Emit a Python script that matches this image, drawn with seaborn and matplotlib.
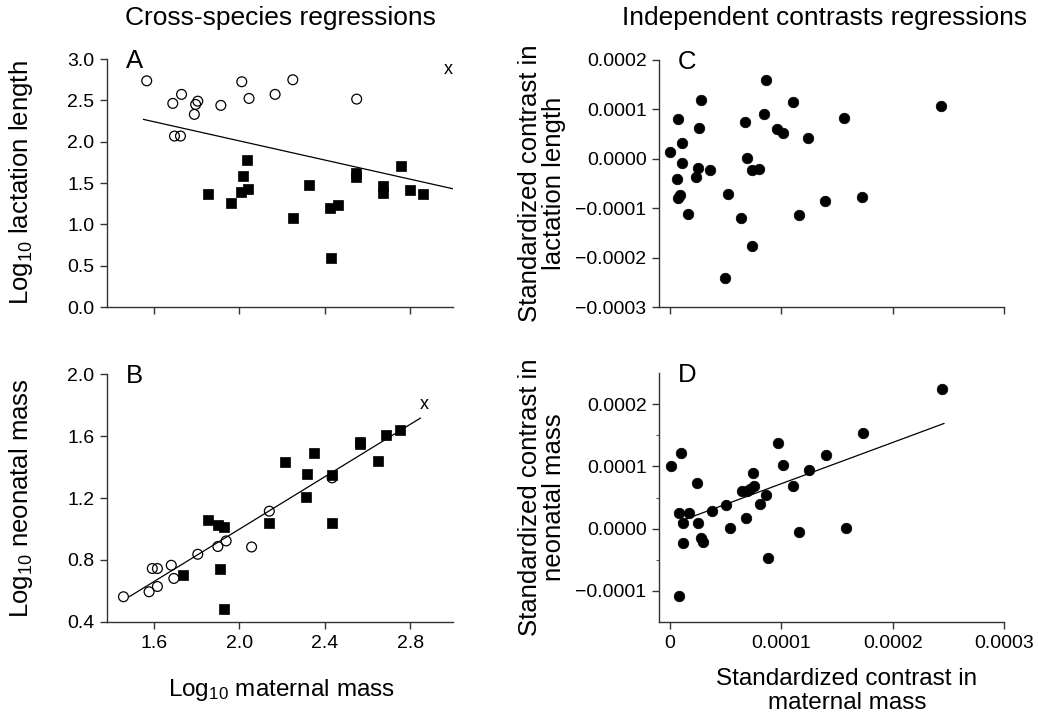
import matplotlib
matplotlib.use("Agg")
import matplotlib.pyplot as plt
import seaborn as sns
from matplotlib.ticker import FuncFormatter

# Panel A: log10 maternal mass vs log10 lactation length
a_open_x = [1.566, 1.688, 1.729, 1.805, 1.795, 1.789, 1.696, 1.724, 1.913, 2.011, 2.045, 2.167, 2.250, 2.549]
a_open_y = [2.736, 2.463, 2.572, 2.490, 2.450, 2.330, 2.068, 2.068, 2.439, 2.725, 2.523, 2.572, 2.749, 2.515]
a_fill_x = [1.851, 1.960, 2.037, 2.019, 2.008, 2.042, 2.324, 2.251, 2.425, 2.460, 2.427, 2.546, 2.546,
            2.674, 2.674, 2.758, 2.797, 2.860]
a_fill_y = [1.363, 1.254, 1.778, 1.588, 1.394, 1.423, 1.471, 1.080, 1.201, 1.233, 0.596, 1.616, 1.576,
            1.467, 1.382, 1.709, 1.415, 1.363]
a_cross = (2.980, 2.874)
a_line_x = [1.55, 3.0]
a_line_y = [2.27, 1.43]

# Panel B: log10 maternal mass vs log10 neonatal mass
b_open_x = [1.457, 1.577, 1.616, 1.592, 1.616, 1.681, 1.693, 1.805, 1.899, 1.938, 2.057, 2.140, 2.434]
b_open_y = [0.563, 0.595, 0.629, 0.745, 0.745, 0.766, 0.681, 0.837, 0.887, 0.923, 0.884, 1.115, 1.330]
b_fill_x = [1.736, 1.851, 1.899, 1.929, 1.907, 1.929, 2.140, 2.212, 2.316, 2.310, 2.347, 2.434, 2.434,
            2.564, 2.564, 2.648, 2.688, 2.752]
b_fill_y = [0.704, 1.056, 1.023, 1.015, 0.741, 0.484, 1.036, 1.433, 1.356, 1.205, 1.491, 1.347, 1.036,
            1.559, 1.549, 1.437, 1.608, 1.636]
b_cross = (2.864, 1.801)
b_line_x = [1.484, 2.848]
b_line_y = [0.563, 1.716]

# Panel C: contrasts, lactation length (units of 1e-4)
c_x = [0.0, 0.075, 0.105, 0.11, 0.066, 0.09, 0.075, 0.158, 0.263, 0.276, 0.246, 0.234, 0.36, 0.524, 0.638,
       0.494, 0.674, 0.689, 0.740, 0.80, 0.740, 0.845, 0.86, 0.959, 1.013, 1.10, 1.235, 1.154, 1.393, 1.566,
       1.722, 2.432]
c_y = [0.13, 0.80, 0.31, -0.08, -0.40, -0.73, -0.80, -1.12, 0.62, 1.19, -0.19, -0.37, -0.23, -0.72, -1.20,
       -2.42, 0.75, 0.01, -0.23, -0.21, -1.76, 0.91, 1.60, 0.60, 0.52, 1.14, 0.43, -1.14, -0.85, 0.82,
       -0.78, 1.07]

# Panel D: contrasts, neonatal mass (units of 1e-4)
d_x = [0.009, 0.096, 0.081, 0.171, 0.114, 0.12, 0.084, 0.24, 0.254, 0.276, 0.294, 0.375, 0.503, 0.539,
       0.644, 0.689, 0.755, 0.719, 0.749, 0.683, 0.809, 0.86, 0.878, 0.973, 1.018, 1.108, 1.162, 1.249,
       1.402, 1.578, 1.731, 2.441]
d_y = [1.00, 1.22, 0.25, 0.25, 0.09, -0.23, -1.09, 0.74, 0.09, -0.15, -0.21, 0.29, 0.38, 0.01, 0.60, 0.60,
       0.68, 0.64, 0.90, 0.17, 0.40, 0.54, -0.47, 1.38, 1.03, 0.69, -0.05, 0.94, 1.19, 0.005, 1.53, 2.24]
d_line_x = [0.075, 2.462]
d_line_y = [0.11, 1.69]

SCALE = 1e-4
c_x = [v * SCALE for v in c_x]
c_y = [v * SCALE for v in c_y]
d_x = [v * SCALE for v in d_x]
d_y = [v * SCALE for v in d_y]
d_line_x = [v * SCALE for v in d_line_x]
d_line_y = [v * SCALE for v in d_line_y]

sns.set_theme(style="ticks")
plt.rcParams["font.family"] = ["Liberation Sans", "DejaVu Sans"]
plt.rcParams["mathtext.fontset"] = "custom"
plt.rcParams["mathtext.rm"] = "Liberation Sans"
plt.rcParams["mathtext.default"] = "regular"
plt.rcParams["axes.unicode_minus"] = True
for key in ("text.color", "axes.labelcolor", "xtick.color", "ytick.color"):
    plt.rcParams[key] = "black"

W, H = 1038, 723
fig = plt.figure(figsize=(W / 100, H / 100), dpi=100)


def add_ax(x0, y0, x1, y1):
    return fig.add_axes([x0 / W, 1 - y1 / H, (x1 - x0) / W, (y1 - y0) / H])


ax_a = add_ax(107, 59, 453, 307)
ax_b = add_ax(107, 374, 453, 622)
ax_c = add_ax(659, 60, 1004, 307)
ax_d = add_ax(659, 373, 1004, 622)

open_kw = dict(marker="o", s=50, facecolor="none", edgecolor="black", linewidth=0.9, zorder=3)
sq_kw = dict(marker="s", s=42, color="black", edgecolor="black", linewidth=0.5, zorder=3)
dot_kw = dict(marker="o", s=58, color="black", edgecolor="black", linewidth=0.5, zorder=3)
line_kw = dict(color="black", linewidth=0.9, zorder=2)

YLAB = 18.5
XLAB = 17.5
TICK = 14

# A
sns.lineplot(x=a_line_x, y=a_line_y, ax=ax_a, **line_kw)
sns.scatterplot(x=a_open_x, y=a_open_y, ax=ax_a, **open_kw)
sns.scatterplot(x=a_fill_x, y=a_fill_y, ax=ax_a, **sq_kw)
ax_a.text(a_cross[0], a_cross[1], "x", ha="center", va="center", fontsize=13)
ax_a.set_xlim(1.38, 3.0)
ax_a.set_ylim(0, 3.0)
ax_a.set_yticks([0, 0.5, 1.0, 1.5, 2.0, 2.5, 3.0])
ax_a.set_xticks([1.6, 2.0, 2.4, 2.8])
ax_a.set_xticklabels([])
ax_a.yaxis.set_major_formatter(FuncFormatter(lambda v, p: f"{v:.1f}"))
ax_a.set_ylabel("Log$_{10}$ lactation length", fontsize=YLAB, va="center")
ax_a.yaxis.set_label_coords((21 - 107) / 346, 0.5)

# B
sns.lineplot(x=b_line_x, y=b_line_y, ax=ax_b, **line_kw)
sns.scatterplot(x=b_open_x, y=b_open_y, ax=ax_b, **open_kw)
sns.scatterplot(x=b_fill_x, y=b_fill_y, ax=ax_b, **sq_kw)
ax_b.text(b_cross[0], b_cross[1], "x", ha="center", va="center", fontsize=13)
ax_b.set_xlim(1.38, 3.0)
ax_b.set_ylim(0.4, 2.0)
ax_b.set_yticks([0.4, 0.8, 1.2, 1.6, 2.0])
ax_b.set_xticks([1.6, 2.0, 2.4, 2.8])
ax_b.yaxis.set_major_formatter(FuncFormatter(lambda v, p: f"{v:.1f}"))
ax_b.xaxis.set_major_formatter(FuncFormatter(lambda v, p: f"{v:.1f}"))
ax_b.set_ylabel("Log$_{10}$ neonatal mass", fontsize=YLAB, va="center")
ax_b.yaxis.set_label_coords((21 - 107) / 346, 0.5)
ax_b.set_xlabel("Log$_{10}$ maternal mass", fontsize=XLAB, va="center")
ax_b.xaxis.set_label_coords((282 - 107) / 346, -(690 - 622) / 248)


def contrast_fmt(v, p):
    s = f"{v:.4f}"
    if s.startswith("-"):
        s = "\u2212" + s[1:]
    if s == "\u22120.0000":
        s = "0.0000"
    return s


def xcontrast_fmt(v, p):
    return "0" if abs(v) < 1e-12 else f"{v:.4f}"


# C
sns.scatterplot(x=c_x, y=c_y, ax=ax_c, **dot_kw)
ax_c.set_xlim(-0.1e-4, 3e-4)
ax_c.set_ylim(-3e-4, 2e-4)
ax_c.set_yticks([-3e-4, -2e-4, -1e-4, 0, 1e-4, 2e-4])
ax_c.set_xticks([0, 1e-4, 2e-4, 3e-4])
ax_c.set_xticklabels([])
ax_c.yaxis.set_major_formatter(FuncFormatter(contrast_fmt))
ax_c.set_ylabel("Standardized contrast in\nlactation length", fontsize=YLAB, va="center",
                linespacing=1.0)
ax_c.yaxis.set_label_coords((542 - 659) / 345, 0.5)

# D
sns.lineplot(x=d_line_x, y=d_line_y, ax=ax_d, **line_kw)
sns.scatterplot(x=d_x, y=d_y, ax=ax_d, **dot_kw)
ax_d.set_xlim(-0.1e-4, 3e-4)
ax_d.set_ylim(-1.5e-4, 2.5e-4)
ax_d.set_yticks([-1e-4, 0, 1e-4, 2e-4])
ax_d.set_yticks([-0.5e-4, 0.5e-4, 1.5e-4], minor=True)
ax_d.set_xticks([0, 1e-4, 2e-4, 3e-4])
ax_d.yaxis.set_major_formatter(FuncFormatter(contrast_fmt))
ax_d.xaxis.set_major_formatter(FuncFormatter(xcontrast_fmt))
ax_d.set_ylabel("Standardized contrast in\nneonatal mass", fontsize=YLAB, va="center",
                linespacing=1.0)
ax_d.yaxis.set_label_coords((542 - 659) / 345, 0.5)
ax_d.set_xlabel("Standardized contrast in\nmaternal mass", fontsize=XLAB, va="center",
                linespacing=1.1)
ax_d.xaxis.set_label_coords((847 - 659) / 345, -(691 - 622) / 249)

for ax, letter in zip([ax_a, ax_b, ax_c, ax_d], "ABCD"):
    sns.despine(ax=ax)
    for sp in ("left", "bottom"):
        ax.spines[sp].set_color("#333333")
        ax.spines[sp].set_linewidth(1.0)
    ax.tick_params(axis="both", which="major", direction="out", length=5, width=1,
                   color="#333333", labelsize=TICK, pad=4)
    ax.tick_params(axis="both", which="minor", direction="out", length=2.5, width=0.8,
                   color="#555555")
    ax.set_facecolor("white")
    ax.text(0.055 if letter in "AB" else 0.055, 0.99, letter, transform=ax.transAxes,
            ha="left", va="center", fontsize=18.5)
    if ax.get_legend():
        ax.get_legend().remove()

fig.text(280 / W, 1 - 18 / H, "Cross-species regressions", ha="center", va="center", fontsize=19)
fig.text(825 / W, 1 - 18 / H, "Independent contrasts regressions", ha="center", va="center",
         fontsize=19)

fig.savefig("out.png", dpi=100, facecolor="white")
